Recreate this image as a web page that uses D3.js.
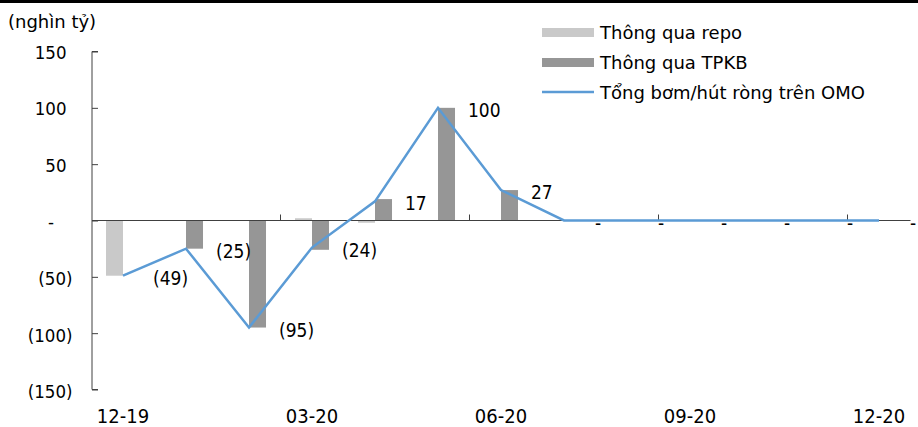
<!DOCTYPE html>
<html>
<head>
<meta charset="utf-8">
<script src="https://cdn.jsdelivr.net/npm/d3@7"></script>
<style>
  html, body { margin: 0; padding: 0; background: #fff; }
  svg { display: block; font-family: "DejaVu Sans Condensed", "DejaVu Sans", sans-serif; }
  .wide { font-family: "DejaVu Sans", sans-serif; }
</style>
</head>
<body>
<svg id="chart" width="918" height="427"></svg>
<script>
// Months on the category axis
const months = ["12-19","01-20","02-20","03-20","04-20","05-20","06-20","07-20","08-20","09-20","10-20","11-20","12-20"];
// Net injection via repo (nghìn tỷ)
const repo = [-49, 0, 0, 2, -2, 0, 0, 0, 0, 0, 0, 0, 0];
// Net injection via treasury bills (TPKB)
const tpkb = [0, -25, -95, -26, 19, 100, 27, 0, 0, 0, 0, 0, 0];
// Total net OMO injection / withdrawal
const total = [-49, -25, -95, -24, 17, 100, 27, 0, 0, 0, 0, 0, 0];
// Axis ticks
const yTicks = [150, 100, 50, 0, -50, -100, -150];
const xTickLabels = ["12-19", "03-20", "06-20", "09-20", "12-20"];
const seriesNames = ["Thông qua repo", "Thông qua TPKB", "Tổng bơm/hút ròng trên OMO"];

const colors = { repo: "#c9c9c9", tpkb: "#969696", line: "#5b9bd5", axis: "#404040" };

const svg = d3.select("#chart");

const x = d3.scaleBand().domain(months).range([91.5, 910.5]).padding(0);
const y = d3.scaleLinear().domain([-150, 150]).range([389.5, 51.5]);
const cx = m => x(m) + x.bandwidth() / 2;
const barW = x.bandwidth() * 0.27;

// thick rule along the top edge
svg.append("rect").attr("x", 0).attr("y", 0).attr("width", 918).attr("height", 3).attr("fill", "#000");

// unit label
svg.append("text").attr("class", "wide").attr("x", 8).attr("y", 28).attr("font-size", 18).attr("fill", "#000").text("(nghìn tỷ)");

// y axis
const fmt = v => v === 0 ? "-" : (v < 0 ? "(" + Math.abs(v) + ")" : String(v));
const yAxis = d3.axisRight(y).tickValues(yTicks).tickSize(6).tickFormat("");
const gy = svg.append("g").attr("transform", "translate(92,0)").call(yAxis);
gy.select(".domain").attr("stroke", colors.axis).attr("d", `M6,${y(150)}H0V${y(-150)}H6`);
gy.selectAll(".tick line").attr("stroke", colors.axis);

svg.append("g").selectAll("text").data(yTicks).join("text")
  .attr("x", d => d === 0 ? 51 : (d < 0 ? 72.5 : 66.5))
  .attr("y", d => y(d) + (d < 0 ? 2 : 1))
  .attr("text-anchor", d => d === 0 ? "middle" : "end")
  .attr("dominant-baseline", "central")
  .attr("font-size", 18.5)
  .attr("fill", "#000")
  .text(fmt);

// bars
const gBars = svg.append("g");
gBars.selectAll("rect.repo").data(months).join("rect").attr("class", "repo")
  .attr("x", (m) => cx(m) - barW)
  .attr("width", barW)
  .attr("y", (m, i) => y(Math.max(0, repo[i])))
  .attr("height", (m, i) => Math.abs(y(repo[i]) - y(0)))
  .attr("fill", colors.repo);
gBars.selectAll("rect.tpkb").data(months).join("rect").attr("class", "tpkb")
  .attr("x", (m) => cx(m))
  .attr("width", barW)
  .attr("y", (m, i) => y(Math.max(0, tpkb[i])))
  .attr("height", (m, i) => Math.abs(y(tpkb[i]) - y(0)))
  .attr("fill", colors.tpkb);

// x axis along zero, ticks every three months pointing up
const xAxisY = y(0);
svg.append("line").attr("x1", 92).attr("x2", 910.5).attr("y1", xAxisY).attr("y2", xAxisY)
  .attr("stroke", colors.axis).attr("stroke-width", 1);
months.forEach((m, i) => {
  if (i > 0 && i % 3 === 0) {
    svg.append("line").attr("x1", x(m)).attr("x2", x(m)).attr("y1", xAxisY).attr("y2", xAxisY - 6)
      .attr("stroke", colors.axis);
  }
});
svg.append("g").selectAll("text").data(xTickLabels).join("text")
  .attr("x", d => cx(d))
  .attr("y", 423)
  .attr("text-anchor", "middle")
  .attr("font-size", 20)
  .attr("fill", "#000")
  .text(d => d);

// total line
const line = d3.line().x((d, i) => cx(months[i])).y(d => y(d));
svg.append("path").datum(total).attr("d", line)
  .attr("fill", "none").attr("stroke", colors.line).attr("stroke-width", 2.5).attr("stroke-linejoin", "miter");

// data labels for the total
svg.append("g").selectAll("text").data(total).join("text")
  .attr("x", (d, i) => cx(months[i]) + (d === 0 ? 31 : 30))
  .attr("y", d => y(d) + 2)
  .attr("dominant-baseline", "central")
  .attr("font-size", 19)
  .attr("fill", "#000")
  .text(fmt);

// legend
const legend = svg.append("g").attr("transform", "translate(542,0)");
const rowsY = [32.5, 62.5, 92];
legend.append("rect").attr("x", 0).attr("y", rowsY[0] - 4.5).attr("width", 52).attr("height", 9).attr("fill", colors.repo);
legend.append("rect").attr("x", 0).attr("y", rowsY[1] - 4.5).attr("width", 52).attr("height", 9).attr("fill", colors.tpkb);
legend.append("line").attr("x1", 0).attr("x2", 52).attr("y1", rowsY[2]).attr("y2", rowsY[2])
  .attr("stroke", colors.line).attr("stroke-width", 2.5);
legend.selectAll("text").data(seriesNames).join("text")
  .attr("class", "wide")
  .attr("x", 58)
  .attr("y", (d, i) => rowsY[i] + 6.5)
  .attr("font-size", 18)
  .attr("fill", "#000")
  .text(d => d);
</script>
</body>
</html>
